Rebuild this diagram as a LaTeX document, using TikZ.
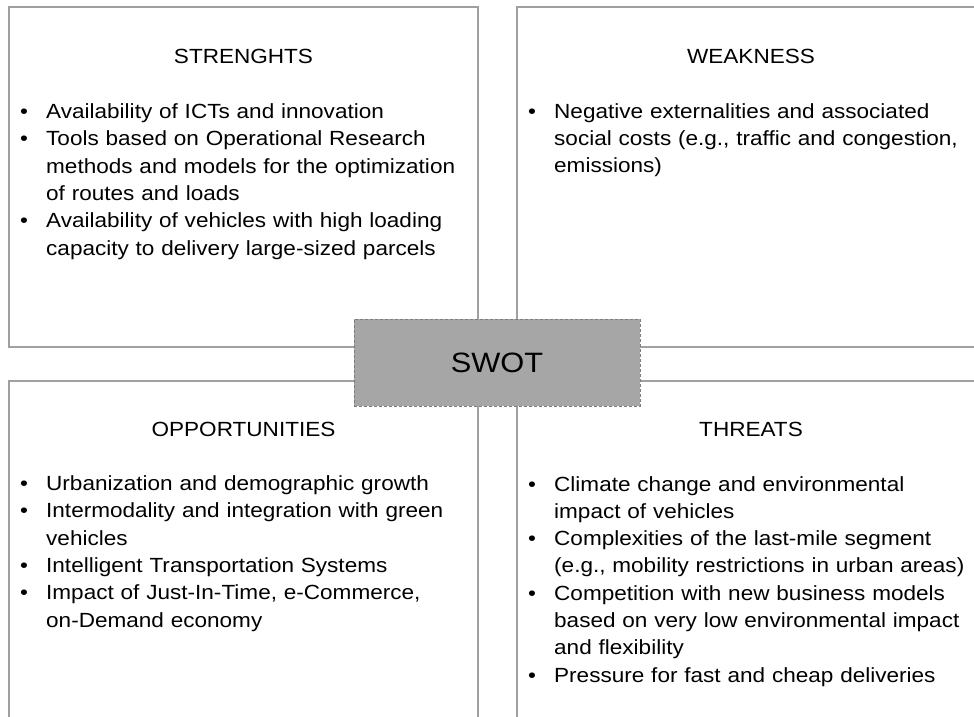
\documentclass[tikz,border=0pt]{standalone}
\usepackage{fontspec}
\setmainfont{Liberation Sans}[FakeStretch=1.1]
\usetikzlibrary{positioning}
\definecolor{frame}{RGB}{160,160,160}
\definecolor{core}{RGB}{166,166,166}
\definecolor{coreline}{RGB}{125,125,125}
\newcommand{\swotfont}{\fontsize{20.5}{27.3}\selectfont\parskip=0pt}
\newcommand{\bul}{\par\noindent\strut\hangindent=26pt\hangafter=1\makebox[26pt][l]{\textbullet}}

\begin{document}
\begin{tikzpicture} [
    x=1pt, y=-1pt,
    quad/.style={
        draw=frame, line width=1.3pt,
        inner sep=0pt, outer sep=0pt
    },
    head/.style={anchor=base, font=\swotfont},
    items/.style={
        anchor=north west, inner sep=0pt,
        text width=460pt, align=left,
        font=\swotfont
    },
    core/.style={
        fill=core, draw=coreline, line width=1pt,
        dash pattern=on 3pt off 2pt,
        minimum width=286pt, minimum height=87pt,
        font=\fontsize{28}{32}\selectfont
    }
]

\useasboundingbox (0,0) rectangle (974,716);

\node [quad, minimum width=469pt, minimum height=340pt] (sbox) at (243.5,177) {};
\node [quad, minimum width=468pt, minimum height=340pt] (wbox) at (751,177) {};
\node [quad, minimum width=469pt, minimum height=350pt] (obox) at (243.5,556) {};
\node [quad, minimum width=468pt, minimum height=350pt] (tbox) at (751,556) {};

\node [head] (shead) at (243.5,63) {STRENGHTS};
\node [head] (whead) at (751,63) {WEAKNESS};
\node [head] (ohead) at (243.5,436) {OPPORTUNITIES};
\node [head] (thead) at (751,436) {THREATS};

\node [items] (stext) at (20,91) {%
    \bul Availability of ICTs and innovation
    \bul Tools based on Operational Research\newline
        methods and models for the optimization\newline
        of routes and loads
    \bul Availability of vehicles with high loading\newline
        capacity to delivery large-sized parcels\par};

\node [items] (wtext) at (528,90.5) {%
    \bul Negative externalities and associated\newline
        social costs (e.g., traffic and congestion,\newline
        emissions)\par};

\node [items] (otext) at (20,463) {%
    \bul Urbanization and demographic growth
    \bul Intermodality and integration with green\newline
        vehicles
    \bul Intelligent Transportation Systems
    \bul Impact of Just-In-Time, e-Commerce,\newline
        on-Demand economy\par};

\node [items] (ttext) at (528,463.5) {%
    \bul Climate change and environmental\newline
        impact of vehicles
    \bul Complexities of the last-mile segment\newline
        (e.g., mobility restrictions in urban areas)
    \bul Competition with new business models\newline
        based on very low environmental impact\newline
        and flexibility
    \bul Pressure for fast and cheap deliveries\par};

\node [core] (swot) at (497,362.5) {SWOT};

\end{tikzpicture}
\end{document}
